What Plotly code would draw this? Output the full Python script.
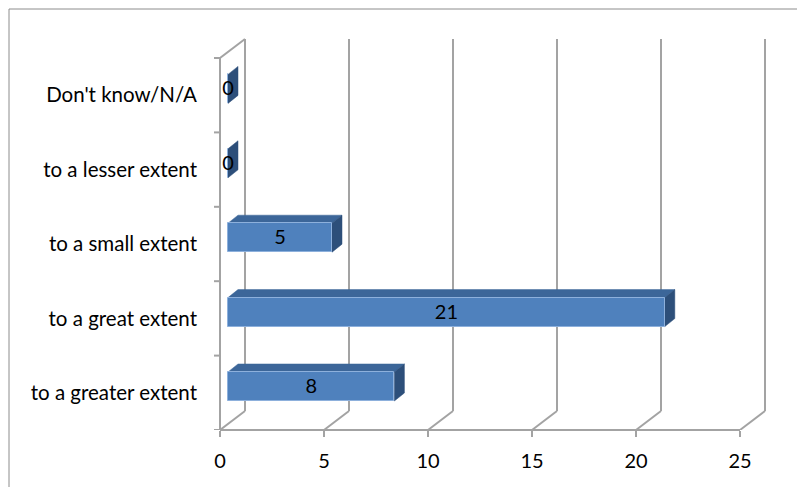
import plotly.graph_objects as go

categories = ["to a greater extent", "to a great extent", "to a small extent",
              "to a lesser extent", "Don't know/N/A"]
values = [8, 21, 5, 0, 0]
x_ticks = [0, 5, 10, 15, 20, 25]

W, H = 797, 487
L, R, T, B = 220, 17, 30, 57
pw = W - L - R
ph = H - T - B
px_x = 20.8
px_y = 74.4
n = len(categories)
x_range = [0, pw / px_x]
y_range = [-0.5, -0.5 + ph / px_y]

DX = 25 / px_x      # wall depth (x units)
DY = 19 / px_y      # wall depth (y units)
B0 = 8 / px_x       # bar start depth offset
BDX = 10 / px_x     # bar depth
BDY = 8 / px_y
BW = 29 / px_y      # bar thickness
BOFF = -0.11

GRID = "#A3A3A3"
FRONT = "#4F81BD"
TOP = "#3C6699"
SIDE = "#2D4F7A"
FONT = "Lato"

shapes = []
# outer frame
shapes.append(dict(type="rect", xref="paper", yref="paper",
                   x0=(9 - L) / pw, x1=(W + 5 - L) / pw,
                   y0=-(H + 5 - (H - B)) / ph, y1=((H - B) - 9) / ph,
                   line=dict(color="#8C8C8C", width=1), fillcolor="rgba(0,0,0,0)", layer="below"))
# back wall gridlines and floor diagonals
for t in x_ticks:
    shapes.append(dict(type="line", xref="x", yref="y", x0=t + DX, x1=t + DX,
                       y0=-0.5 + DY, y1=n - 0.5 + DY, line=dict(color=GRID, width=2), layer="below"))
    shapes.append(dict(type="line", xref="x", yref="y", x0=t, x1=t + DX,
                       y0=-0.5, y1=-0.5 + DY, line=dict(color=GRID, width=2), layer="below"))
# left wall top edge
shapes.append(dict(type="line", xref="x", yref="y", x0=0, x1=DX,
                   y0=n - 0.5, y1=n - 0.5 + DY, line=dict(color=GRID, width=2), layer="below"))
# front left edge
shapes.append(dict(type="line", xref="paper", yref="y", x0=0, x1=0,
                   y0=-0.5, y1=n - 0.5, line=dict(color=GRID, width=2), layer="below"))
# front floor edge
shapes.append(dict(type="line", xref="x", yref="paper", x0=0, x1=x_ticks[-1],
                   y0=0, y1=0, line=dict(color=GRID, width=2), layer="below"))
# y tick marks at category boundaries
for k in range(n + 1):
    shapes.append(dict(type="line", xref="paper", yref="y", x0=-6 / pw, x1=0,
                       y0=k - 0.5, y1=k - 0.5, line=dict(color=GRID, width=2), layer="below"))
# bar 3D faces
for i, v in enumerate(values):
    yb = i + BOFF
    yt = yb + BW
    x0 = B0
    x1 = B0 + v
    if v > 0:
        shapes.append(dict(type="path", xref="x", yref="y",
                           path=f"M {x0},{yt} L {x0 + BDX},{yt + BDY} L {x1 + BDX},{yt + BDY} L {x1},{yt} Z",
                           fillcolor=TOP, line=dict(color=TOP, width=0.5), layer="below"))
    shapes.append(dict(type="path", xref="x", yref="y",
                       path=f"M {x1},{yb} L {x1},{yt} L {x1 + BDX},{yt + BDY} L {x1 + BDX},{yb + BDY} Z",
                       fillcolor=SIDE, line=dict(color=SIDE, width=0.5), layer="below"))

fig = go.Figure()
fig.add_trace(go.Bar(
    y=list(range(n)), x=values, base=B0, orientation="h",
    width=BW, offset=BOFF,
    marker=dict(color=FRONT, line=dict(color="#8DB0DC", width=1)),
    hoverinfo="skip", showlegend=False))
fig.add_trace(go.Scatter(
    x=[B0 + v / 2 for v in values],
    y=[i + BOFF + BW / 2 - 0.02 for i in range(n)],
    mode="text", text=[str(v) for v in values],
    textfont=dict(family=FONT, size=20, color="black"),
    cliponaxis=False, hoverinfo="skip", showlegend=False))

fig.update_layout(
    width=W, height=H,
    margin=dict(l=L, r=R, t=T, b=B),
    paper_bgcolor="white", plot_bgcolor="white",
    shapes=shapes,
    font=dict(family=FONT, size=20, color="black"),
    xaxis=dict(range=x_range, tickvals=x_ticks, ticks="outside", ticklen=6,
               tickwidth=2, tickcolor=GRID, showgrid=False, zeroline=False,
               showline=False, ticklabelstandoff=7, fixedrange=True),
    yaxis=dict(range=y_range, tickvals=list(range(n)), ticktext=categories,
               ticks="", showgrid=False, zeroline=False, showline=False,
               ticklabelstandoff=22, tickfont=dict(size=20.5), fixedrange=True),
    bargap=0,
)
fig.write_html("out.html")
